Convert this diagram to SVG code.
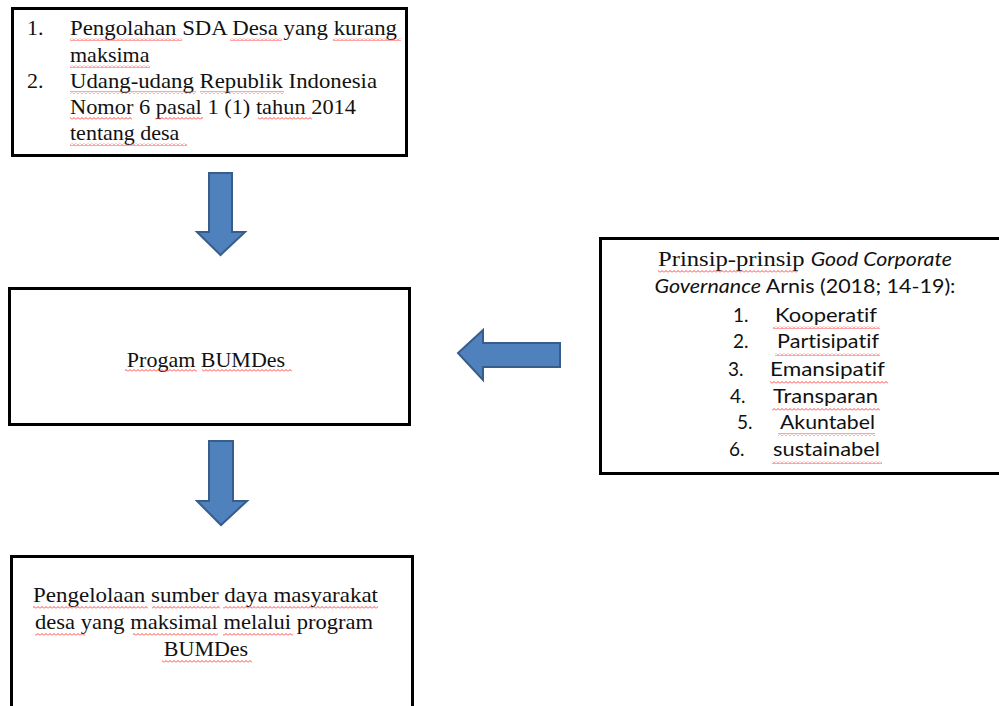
<svg xmlns="http://www.w3.org/2000/svg" width="999" height="706" viewBox="0 0 999 706">
<defs>
<pattern id="sq" width="4" height="3" patternUnits="userSpaceOnUse">
<path d="M0,2.5 L2,0.5 L4,2.5" fill="none" stroke="#ff3030" stroke-width="0.9"/>
</pattern>
</defs>
<style>
text{font-variant-ligatures:none}
.box{fill:#fff;stroke:#000;stroke-width:3}
.serif{font-family:"Liberation Serif","Times New Roman",serif;font-size:22px;fill:#111}
.sans{font-family:Lato,"Open Sans","Noto Sans",sans-serif;font-size:19px;fill:#111}
.it{font-style:italic}
.arrow{fill:#4F81BD;stroke:#385D8A;stroke-width:2;stroke-linejoin:miter}
.sq{fill:url(#sq)}
</style>
<rect width="999" height="706" fill="#fff"/>

<g id="node-masalah">
<rect class="box" x="12.5" y="8.5" width="394" height="147"/>
<text class="serif" x="27" y="35">1.</text>
<text class="serif" x="70" y="35" textLength="327" lengthAdjust="spacingAndGlyphs">Pengolahan SDA Desa yang kurang</text>
<text class="serif" x="70" y="62">maksima</text>
<text class="serif" x="27" y="88">2.</text>
<text class="serif" x="70" y="88" textLength="307" lengthAdjust="spacingAndGlyphs">Udang-udang Republik Indonesia</text>
<text class="serif" x="70" y="114" textLength="286" lengthAdjust="spacingAndGlyphs">Nomor 6 pasal 1 (1) tahun 2014</text>
<text class="serif" x="70" y="140">tentang desa</text>
<rect class="sq" x="70" y="38" width="112" height="3"/>
<rect class="sq" x="230" y="38" width="52" height="3"/>
<rect class="sq" x="333" y="38" width="68" height="3"/>
<rect class="sq" x="70" y="65" width="80" height="3"/>
<rect class="sq" x="70" y="91" width="126" height="3"/>
<rect class="sq" x="200" y="91" width="84" height="3"/>
<rect class="sq" x="70" y="117" width="62" height="3"/>
<rect class="sq" x="155" y="117" width="48" height="3"/>
<rect class="sq" x="258" y="117" width="54" height="3"/>
<rect class="sq" x="70" y="143" width="117" height="3"/>
</g>

<g id="node-program">
<rect class="box" x="9.5" y="288.5" width="400" height="136"/>
<text class="serif" x="206" y="367" text-anchor="middle">Progam BUMDes</text>
<rect class="sq" x="125" y="369" width="72" height="3"/>
<rect class="sq" x="202" y="369" width="90" height="3"/>
</g>

<g id="node-hasil">
<rect class="box" x="11.5" y="556.5" width="401" height="160"/>
<text class="serif" x="205.5" y="602" text-anchor="middle" textLength="345" lengthAdjust="spacingAndGlyphs">Pengelolaan sumber daya masyarakat</text>
<text class="serif" x="204" y="629" text-anchor="middle" textLength="338" lengthAdjust="spacingAndGlyphs">desa yang maksimal melalui  program</text>
<text class="serif" x="206" y="656" text-anchor="middle">BUMDes</text>
<rect class="sq" x="33" y="606" width="115" height="3"/>
<rect class="sq" x="152" y="606" width="68" height="3"/>
<rect class="sq" x="223" y="606" width="155" height="3"/>
<rect class="sq" x="35" y="633" width="50" height="3"/>
<rect class="sq" x="133" y="633" width="85" height="3"/>
<rect class="sq" x="223" y="633" width="70" height="3"/>
<rect class="sq" x="162" y="660" width="90" height="3"/>
</g>

<g id="node-prinsip">
<rect class="box" x="600.5" y="238.5" width="410" height="235"/>
<text x="805" y="266" text-anchor="middle" textLength="294" lengthAdjust="spacingAndGlyphs"><tspan class="serif">Prinsip-prinsip </tspan><tspan class="sans it">Good Corporate</tspan></text>
<text class="sans" x="805" y="293" text-anchor="middle" textLength="301" lengthAdjust="spacingAndGlyphs"><tspan class="it">Governance</tspan> Arnis (2018; 14-19):</text>
<text class="sans" x="733" y="322">1.</text>
<text class="sans" x="775" y="322" textLength="102" lengthAdjust="spacingAndGlyphs">Kooperatif</text>
<text class="sans" x="733" y="348">2.</text>
<text class="sans" x="777" y="348" textLength="102" lengthAdjust="spacingAndGlyphs">Partisipatif</text>
<text class="sans" x="728" y="376">3.</text>
<text class="sans" x="770" y="376" textLength="115" lengthAdjust="spacingAndGlyphs">Emansipatif</text>
<text class="sans" x="730" y="403">4.</text>
<text class="sans" x="773" y="403" textLength="105" lengthAdjust="spacingAndGlyphs">Transparan</text>
<text class="sans" x="737" y="429">5.</text>
<text class="sans" x="780" y="429" textLength="95" lengthAdjust="spacingAndGlyphs">Akuntabel</text>
<text class="sans" x="729" y="456">6.</text>
<text class="sans" x="773" y="456" textLength="107" lengthAdjust="spacingAndGlyphs">sustainabel</text>
<rect class="sq" x="658" y="270" width="140" height="3"/>
<rect class="sq" x="773" y="326" width="107" height="3"/>
<rect class="sq" x="775" y="353" width="105" height="3"/>
<rect class="sq" x="770" y="381" width="118" height="3"/>
<rect class="sq" x="772" y="408" width="108" height="3"/>
<rect class="sq" x="778" y="433" width="97" height="3"/>
<rect class="sq" x="772" y="461" width="110" height="3"/>
</g>

<g id="connectors">
<path class="arrow" d="M209,173 H232 V232 H245 L220.5,255 L197,232 H209 Z"/>
<path class="arrow" d="M209,441 H233 V501 H247 L221,525 L197,501 H209 Z"/>
<path class="arrow" d="M560,343 V367 H483 V380 L458,353 L483,330 V343 Z"/>
</g>
</svg>
